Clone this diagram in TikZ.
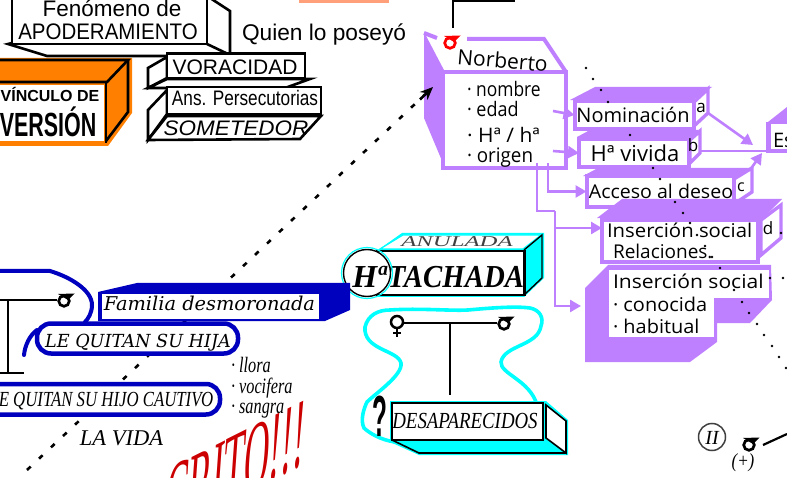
\documentclass[tikz,border=0pt]{standalone}
\usepackage{fontspec}
\usetikzlibrary{arrows.meta}
\setmainfont{Liberation Sans}
\newfontfamily\tms{Liberation Serif}
\newfontfamily\dvs{DejaVu Serif}
\newfontfamily\cms{Open Sans}
\newcommand{\fs}[1]{\fontsize{#1}{#1}\selectfont}
\newcommand{\sx}[2]{\scalebox{#1}[1]{#2}}
\definecolor{pur}{HTML}{BF80FF}
\definecolor{blu}{HTML}{0000BF}
\definecolor{org}{HTML}{FF8000}
\definecolor{cya}{HTML}{00FFFF}
\definecolor{peach}{HTML}{FFA07A}
\definecolor{redd}{HTML}{CC0000}
\tikzset{
  txt/.style={inner sep=0pt,outer sep=0pt,anchor=base,text=black},
  txw/.style={inner sep=0pt,outer sep=0pt,anchor=base west,text=black},
  blk/.style={draw=black,line width=2.6pt,line join=miter},
  wbox/.style={draw=black,line width=2.6pt,fill=white,inner sep=0pt,outer sep=0pt,rectangle},
  pbox/.style={draw=pur,line width=4pt,fill=white,inner sep=0pt,outer sep=0pt,rectangle},
  parr/.style={draw=pur,line width=2.6pt,-{Triangle[length=11pt,width=12pt]}},
  pline/.style={draw=pur,line width=2.6pt},
  bluepill/.style={draw=blu,line width=4.5pt,fill=white,rounded corners=14pt},
  malesym/.pic={
    \draw[line width=2.7pt] (0,0) circle (5.3pt);
    \fill (-6pt,7pt) -- (10.5pt,7.5pt) -- (4pt,1pt) -- cycle;
  },
  femsym/.pic={
    \draw[line width=2.5pt] (0,0) circle (6pt);
    \draw[line width=2.5pt] (0,-6pt) -- (0,-15pt) (-4pt,-11pt) -- (4pt,-11pt);
  },
}
\begin{document}
\begin{tikzpicture}[x=1pt,y=-1pt]
\useasboundingbox (0,0) rectangle (787,478);
\fill[white] (0,0) rectangle (787,478);

% long dashed connector (behind the boxes)
\coordinate (dashstart) at (27,470);
\coordinate (norbleft) at (433,87);
\coordinate (tipstart) at (420,99.5);
\draw[line width=2.6pt,dash pattern=on 5pt off 11.5pt] (dashstart) -- (norbleft);

% peach strip
\fill[peach] (299,0) rectangle (389,3);

% Fenomeno de apoderamiento
\filldraw[fill=white,blk] (207,-4) -- (230,11) -- (230,56) -- (47,56) -- (8,44) -- cycle;
\draw[blk] (207,44) -- (228,54);
\node[wbox,minimum width=195pt,minimum height=50pt] (apod) at (109.5,19) {};
\node[txt,font=\fs{22.5}] (fen) at (112,17) {Fenómeno de};
\node[txt,font=\fs{22.5}] (apot) at (108,40) {\sx{.91}{APODERAMIENTO}};
\node[txw,font=\fs{22.7}] (quien) at (242,41) {Quien lo poseyó};

% Orange box
\fill[org] (0,58) -- (132,58) -- (132,113) -- (108,146) -- (0,146) -- cycle;
\fill[white] (0,85.5) rectangle (104,141);
\draw[blk] (0,60) -- (128,60) -- (107,82) -- (0,82);
\draw[blk] (128,60) -- (128,112) -- (106,141);
\draw[blk] (106,82) -- (106,143);
\node[txt,font=\bfseries\fs{16}] (vinc) at (50,102) {VÍNCULO DE};
\node[txt,font=\bfseries\fs{33.5}] (vers) at (48,137) {\sx{.64}{VERSIÓN}};

% Voracidad
\filldraw[fill=white,blk] (167,57) -- (148,68) -- (148,88) -- (167,78) -- cycle;
\filldraw[fill=white,blk] (167,79) -- (310,79) -- (285,88) -- (148,88) -- cycle;
\node[wbox,minimum width=138pt,minimum height=25pt] (vorb) at (236,66) {};
\node[txt,font=\fs{21}] (vor) at (235,75) {VORACIDAD};
% Ans. Persecutorias
\filldraw[fill=white,blk] (167,90) -- (148,110) -- (148,140) -- (167,114) -- cycle;
\filldraw[fill=white,blk] (148,140) -- (167,116) -- (321,116) -- (300,139) -- cycle;
\node[wbox,minimum width=154pt,minimum height=27pt] (ansb) at (244,100.5) {};
\node[txt,font=\fs{21}] (ans) at (245,106) {\sx{.82}{Ans. Persecutorias}};
\node[txt,font=\itshape\fs{21}] (som) at (236,136) {\sx{1.07}{SOMETEDOR}};

% top black connector and red symbol
\coordinate (topa) at (453,28);
\coordinate (topb) at (453,0.8);
\coordinate (topc) at (515,0.8);
\draw[line width=2.2pt] (topa) -- (topb) -- (topc);

% Norberto
\fill[pur] (424,32) -- (445,72) -- (445,168) -- (424,118) -- cycle;
\draw[pur,line width=4pt] (467,39) -- (544,39) -- (566,72);
\draw[pur,line width=4pt] (424,33) -- (437,38);
\pic[color=red] at (450,43) {malesym};
\node[pbox,minimum width=123pt,minimum height=96pt] (norb) at (504.5,120) {};
\node[txt,font=\cms\fs{21},rotate=-5] (nort) at (502,68) {Norberto};
\node[txw,font=\cms\fs{20}] (n1) at (467,97) {\sx{.87}{· nombre}};
\node[txw,font=\cms\fs{20}] (n2) at (467,117) {\sx{.9}{· edad}};
\node[txw,font=\cms\fs{20}] (n3) at (467,143) {\sx{1.05}{· Hª / hª}};
\node[txw,font=\cms\fs{20}] (n4) at (467,163) {\sx{.94}{· origen}};
\draw[line width=2.6pt,-{Stealth[length=13pt,width=11pt]}] (tipstart) -- (norbleft);

% E box at the right
\fill[pur] (768,122) -- (787,107) -- (787,124) -- (770,124) -- cycle;
\fill[pur] (766,122) rectangle (771,153);
\fill[pur] (771,149) rectangle (787,153);
\node[txw,font=\cms\fs{20}] (es) at (773,148) {Es};
\coordinate (eleft) at (766,151);
\coordinate (etarget) at (753,145);

% Nominacion
\fill[pur] (570,100) -- (595,87) -- (712,87) -- (692,101) -- cycle;
\filldraw[fill=white,draw=pur,line width=3.4pt] (694,102) -- (708,89) -- (708,113) -- (694,126) -- cycle;
\node[pbox,minimum width=119pt,minimum height=28pt] (nom) at (634,115) {};
\node[txt,font=\cms\fs{20}] (nomt) at (633,123) {\sx{1.0}{Nominación}};
\node[txt,font=\cms\fs{17}] (la) at (701,113) {a};
% H vivida
\fill[pur] (577,137) -- (590,130) -- (699,130) -- (688,140) -- cycle;
\filldraw[fill=white,draw=pur,line width=3.4pt] (690,140) -- (700,131) -- (700,153) -- (690,163) -- cycle;
\node[pbox,minimum width=110pt,minimum height=28pt] (viv) at (634,153) {};
\node[txt,font=\cms\fs{22}] (vivt) at (635,162) {Hª vivida};
\node[txt,font=\cms\fs{17}] (lb) at (693,152) {b};
% Acceso
\fill[pur] (583,176) -- (598,168) -- (752,168) -- (734,178) -- cycle;
\filldraw[fill=white,draw=pur,line width=3.4pt] (734,179) -- (752,168) -- (752,192) -- (734,204) -- cycle;
\node[pbox,minimum width=147pt,minimum height=31pt] (acc) at (660,191.5) {};
\node[txt,font=\cms\fs{19}] (acct) at (661,199) {\sx{1.03}{Acceso al deseo}};
\node[txt,font=\cms\fs{16}] (lc) at (741,192) {c};
% Insercion social d
\fill[pur] (597,218) -- (622,199) -- (782,199) -- (760,221) -- cycle;
\filldraw[fill=white,draw=pur,line width=3.4pt] (761,220) -- (781,205) -- (781,238) -- (761,255) -- cycle;
\node[pbox,minimum width=156pt,minimum height=42pt] (ins) at (680,241) {};
\node[txw,font=\cms\fs{19}] (ins1) at (607,238) {\sx{1.07}{Inserción social}};
\node[txw,font=\cms\fs{19}] (ins2) at (613,259) {Relaciones.};
\node[txt,font=\cms\fs{17}] (ld) at (768,235) {d};
% Insercion social conocida
\fill[pur] (585,288) -- (608,265) -- (771,265) -- (772,300) -- (750,323) -- (717,323) -- (717,342) -- (690,362) -- (585,362) -- cycle;
\fill[white] (609,270) rectangle (769,298);
\fill[white] (609,297) rectangle (714,337);
\node[txw,font=\cms\fs{19}] (c1) at (613,289) {\sx{1.11}{Inserción social}};
\node[txw,font=\cms\fs{19}] (c2) at (613,312) {\sx{1.05}{· conocida}};
\node[txw,font=\cms\fs{19}] (c3) at (613,334) {\sx{1.05}{· habitual}};
\coordinate (ibox) at (609,306);

% purple connectors
\coordinate (s1) at (553,111);
\coordinate (s2) at (553,151);
\coordinate (s3) at (548,163);
\coordinate (s4) at (537,163);
\draw[parr] (s1) -- (nom.west);
\draw[parr] (s2) -- (viv.west);
\draw[parr] (s3) |- (acc.west);
\coordinate (v1) at (555,211);
\coordinate (v2) at (555,228);
\draw[pline] (s4) |- (v1);
\draw[parr] (v1) -- (555,306) -- ([xshift=-28pt]ibox);
\draw[parr] (v2) -- (ins.west |- v2);
\coordinate (afrom) at (708,113);
\draw[parr] (afrom) -- (etarget);
\coordinate (bfrom) at (700,151);
\draw[pline] (bfrom) -- (eleft);
\coordinate (cfrom) at (750,170);
\coordinate (ctip) at (762,153);
\draw[parr] (cfrom) -- (ctip);

% small dots
\foreach \p/\q in {586/68,593/79,601/90,608/102,630/135,653/168,660/179,675/202,683/213,690/223,697/235,705/246,712/257,720/268,734/290,742/302,749/313,757/324,764/335,772/346,779/357,786/368,770/278,783/278,781/233}
  \fill[black] (\p,\q) circle (1.3pt);

% Ha TACHADA
\fill[cya] (378,250) -- (402,233) -- (544,233) -- (544,278) -- (524,297) -- (378,297) -- cycle;
\filldraw[fill=white,draw=cya,line width=1.2pt] (380,249) -- (403,235) -- (541,235) -- (523,249) -- cycle;
\draw[black,line width=1.4pt] (524,250) -- (542,235) -- (542,278) -- (524,295);
\node[draw=black,line width=2.4pt,fill=white,minimum width=147pt,minimum height=44pt,inner sep=0pt] (tachb) at (451,273) {};
\node[txt,font=\tms\bfseries\itshape\fs{32}] (tach) at (456,288) {\sx{.9}{TACHADA}};
\node[draw=black,line width=1.4pt,circle,fill=white,minimum size=47pt,inner sep=0pt] (hcirc) at (367,273) {};
\draw[cya,line width=1.2pt] (hcirc) circle (25.5pt);
\node[txt,font=\tms\bfseries\itshape\fs{32}] (hat) at (369,288) {Hª};
\node[txt,font=\tms\itshape\fs{15},text=black!75] (anu) at (457,247) {\sx{1.65}{ANULADA}};

% cyan blob
\draw[cya,line width=3.6pt,line cap=round,fill=white]
 (367,402) .. controls (376,393) and (403,375) .. (401,363)
 .. controls (398,350) and (363,350) .. (365,327)
 .. controls (368,315) and (378,310) .. (390,310)
 .. controls (420,308) and (450,311) .. (468,310)
 .. controls (490,308) and (515,306) .. (530,308)
 .. controls (540,310) and (544,318) .. (541,326)
 .. controls (538,346) and (504,345) .. (501,362)
 .. controls (500,374) and (530,380) .. (537,405)
 -- (395,442) .. controls (380,440) and (368,432) .. (364,428)
 .. controls (360,420) and (364,408) .. (367,402) -- cycle;
\draw[line width=2.2pt] (404,323) -- (497,323);
\coordinate (stem) at (450,323);
\coordinate (stemend) at (450,395);
\draw[line width=2.2pt] (stem) -- (stemend);
\pic at (397,322) {femsym};
\pic[color=black] at (504,324) {malesym};
\node[txt,font=\bfseries\fs{58}] (qm) at (380,436) {\sx{.42}{?}};

% Desaparecidos
\fill[cya] (390,401) -- (546,401) -- (568,420) -- (568,455) -- (419,455) -- (390,442) -- cycle;
\filldraw[fill=white,draw=black,line width=1.6pt] (546,405) -- (566,421) -- (566,453) -- (546,438) -- cycle;
\node[draw=black,line width=1.6pt,fill=white,minimum width=151pt,minimum height=37pt,inner sep=0pt,outer sep=0pt] (desb) at (467.5,421.5) {};
\draw[line width=1.6pt] (392,440) -- (419,453) -- (566,453);
\node[txt,font=\tms\itshape\fs{23}] (des) at (465,428) {\sx{.82}{DESAPARECIDOS}};

% blue group
\draw[blu,line width=4pt,line cap=round] (0,271) -- (50,271) .. controls (70,277) and (92,290) .. (92,305) .. controls (92,313) and (88,319) .. (85,322);
\draw[blu,line width=4pt,line cap=round] (37,330) .. controls (30,335) and (25,345) .. (24,355);
\fill[blu] (98,292) -- (137,283) -- (350,283) -- (350,310) -- (325,321) -- (98,321) -- cycle;
\node[fill=white,minimum width=217pt,minimum height=24pt,inner sep=0pt] (famb) at (210.5,306.5) {};
\node[txt,font=\dvs\itshape\fs{19}] (fam) at (209.5,311) {\sx{1.02}{Familia desmoronada}};
\coordinate (h1) at (0,300);
\coordinate (h2) at (57,300);
\coordinate (v3) at (8,300);
\coordinate (v4) at (8,373);
\coordinate (f1) at (0,373);
\coordinate (f2) at (24,373);
\draw[line width=2.2pt] (h1) -- (h2) (v3) -- (v4) (f1) -- (f2);
\pic[color=black] at (64,301) {malesym};
\node[bluepill,minimum width=201pt,minimum height=30pt,inner sep=0pt] (hijab) at (137.5,338.5) {};
\node[txt,font=\dvs\itshape\fs{18}] (hija) at (138,347) {\sx{.98}{LE QUITAN SU HIJA}};
\draw[bluepill] (-30,384) rectangle (220,414.5);
\node[txt,font=\tms\itshape\fs{21.5}] (hijo) at (106,406) {\sx{.78}{E QUITAN SU HIJO CAUTIVO}};
\node[txw,font=\tms\itshape\fs{22}] (ll) at (231,372) {\sx{.74}{· llora}};
\node[txw,font=\tms\itshape\fs{22}] (vo) at (231,393) {\sx{.74}{· vocifera}};
\node[txw,font=\tms\itshape\fs{22}] (sa) at (231,413) {\sx{.74}{· sangra}};
\node[txt,font=\tms\itshape\fs{22.5}] (vida) at (121.5,445) {LA VIDA};

% red text
\begin{scope}[shift={(233,500)},cm={.35,.175,.07,1,(0,0)}]
\node[inner sep=0pt,anchor=base,transform shape,text=redd,font=\tms\fs{100}] (crito) at (0,0) {CRITO!!!};
\end{scope}

% II and male
\node[draw=black!75,line width=1.5pt,circle,minimum size=27pt,inner sep=0pt] (two) at (712,437) {};
\node[txt,font=\tms\itshape\fs{20}] (twot) at (712,444) {II};
\pic[color=black] at (749,445) {malesym};
\coordinate (ml) at (763,445);
\coordinate (mr) at (787,434);
\draw[line width=2.2pt] (ml) -- (mr);
\node[txt,font=\tms\itshape\fs{20}] (plus) at (743,467) {\sx{.85}{(+)}};
\end{tikzpicture}
\end{document}
